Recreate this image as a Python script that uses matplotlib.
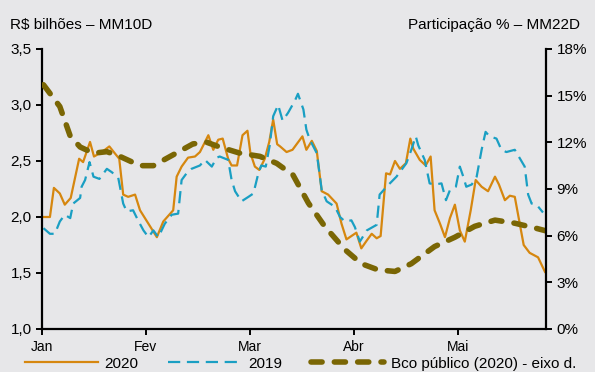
"""
Volume diário (R$ bilhões, MM10D) de 2020 x 2019 e participação dos bancos públicos (eixo direito)
"""

import matplotlib
matplotlib.use('Agg')
import matplotlib.pyplot as plt
from matplotlib.ticker import FuncFormatter

plt.rcParams['font.family'] = ['Liberation Sans', 'DejaVu Sans']

# Eixo x em dias úteis (21 por mês), começando em 2 de janeiro
meses = ['Jan', 'Fev', 'Mar', 'Abr', 'Mai']
dias_por_mes = 21

# 2020 - R$ bilhões (MM10D)
dias_2020 = [0.3, 1.6, 2.4, 3.6, 4.6, 5.8, 7.5, 8.3, 9.7, 10.5, 12.1, 13.6, 14.5, 15.6,
             16.4, 17.4, 18.8, 19.8, 23.2, 24.5, 26.5, 27.2, 28.2, 29.5, 30.9, 31.9,
             33.6, 34.6, 35.6, 36.5, 37.6, 38.3, 39.4, 40.5, 41.5, 42.1, 43.0, 43.9,
             45.0, 45.9, 46.7, 47.5, 48.1, 49.4, 50.6, 52.6, 53.4, 54.5, 55.5, 56.5,
             57.8, 59.5, 60.5, 61.5, 62.5, 63.5, 64.5, 65.6, 66.6, 67.6, 68.4, 69.5,
             70.3, 71.3, 72.3, 73.5, 74.4, 75.0, 76.3, 77.5, 78.5, 79.3, 80.4, 81.4,
             82.4, 83.4, 84.4, 85.4, 86.6, 87.6, 88.8, 90.1, 91.5, 92.3, 93.5, 94.5,
             95.5, 97.3, 98.5, 100.2, 101.6]
vol_2020 = [2.00, 2.00, 2.26, 2.21, 2.11, 2.17, 2.52, 2.49, 2.67, 2.54, 2.58, 2.63, 2.58, 2.52,
            2.20, 2.18, 2.20, 2.06, 1.82, 1.96, 2.06, 2.36, 2.45, 2.53, 2.54, 2.58,
            2.73, 2.60, 2.69, 2.70, 2.52, 2.46, 2.46, 2.73, 2.77, 2.57, 2.45, 2.42,
            2.52, 2.67, 2.87, 2.65, 2.63, 2.58, 2.60, 2.72, 2.60, 2.68, 2.59, 2.23,
            2.20, 2.12, 1.94, 1.80, 1.83, 1.86, 1.72, 1.79, 1.85, 1.81, 1.83, 2.39,
            2.38, 2.50, 2.43, 2.48, 2.70, 2.61, 2.51, 2.46, 2.54, 2.06, 1.94, 1.82,
            1.99, 2.11, 1.88, 1.78, 2.06, 2.33, 2.27, 2.23, 2.36, 2.29, 2.15, 2.19,
            2.18, 1.75, 1.68, 1.64, 1.51]

# 2019 - R$ bilhões (MM10D)
dias_2019 = [0.3, 1.6, 2.6, 3.6, 4.6, 5.7, 6.3, 7.7, 8.0, 8.7, 9.6, 10.4, 11.6, 13.1, 14.1,
             15.4, 16.4, 17.1, 18.4, 19.4, 20.5, 21.5, 22.5, 23.5, 24.8, 26.2, 27.5,
             28.2, 29.2, 30.2, 31.9, 32.9, 34.3, 35.3, 35.9, 37.6, 38.3, 39.0, 40.3,
             41.7, 42.7, 43.7, 44.3, 45.2, 46.0, 46.7, 47.7, 48.6, 49.7, 51.1, 51.7,
             52.8, 53.4, 54.1, 55.5, 56.5, 57.5, 59.2, 60.2, 61.2, 62.5, 63.2, 64.2,
             65.6, 67.6, 68.2, 69.6, 71.6, 73.6, 74.6, 75.5, 76.0, 77.3, 78.3, 79.3,
             80.7, 81.6, 82.4, 83.6, 84.4, 85.1, 85.7, 86.8, 87.8, 88.8, 89.6, 90.4,
             91.8, 92.8, 93.8, 95.5, 97.5, 98.2, 98.9, 99.9, 101.2]
vol_2019 = [1.90, 1.85, 1.85, 1.96, 2.02, 1.99, 2.12, 2.17, 2.27, 2.33, 2.49, 2.36, 2.34, 2.43, 2.40,
            2.35, 2.12, 2.05, 2.06, 1.97, 1.88, 1.82, 1.88, 1.82, 1.94, 2.02, 2.03,
            2.33, 2.39, 2.43, 2.46, 2.51, 2.45, 2.53, 2.54, 2.51, 2.33, 2.23, 2.14,
            2.18, 2.21, 2.39, 2.46, 2.45, 2.64, 2.90, 3.00, 2.86, 2.93, 3.04, 3.10,
            2.96, 2.78, 2.69, 2.57, 2.24, 2.14, 2.09, 2.00, 1.96, 1.97, 1.91, 1.78,
            1.88, 1.93, 2.20, 2.27, 2.36, 2.48, 2.60, 2.72, 2.64, 2.51, 2.30, 2.29,
            2.30, 2.15, 2.24, 2.27, 2.45, 2.36, 2.27, 2.29, 2.36, 2.60, 2.76, 2.72,
            2.70, 2.60, 2.58, 2.60, 2.45, 2.20, 2.12, 2.11, 2.04]

# Participação dos bancos públicos em 2020 (%, MM22D) - eixo direito
dias_pub = [0.3, 3.6, 5.7, 7.7, 10.4, 13.1, 15.7, 19.8, 22.5, 26.5, 30.5, 33.3, 35.9,
            40.0, 44.0, 47.4, 50.7, 53.8, 57.1, 61.2, 64.5, 67.9, 71.3, 74.6, 79.3,
            83.4, 87.4, 91.5, 95.5, 99.5, 101.9]
part_pub = [15.7, 14.3, 12.4, 11.7, 11.3, 11.4, 11.1, 10.5, 10.5, 11.2, 11.9, 12.0, 11.7,
            11.3, 11.1, 10.65, 9.9, 8.1, 6.6, 5.1, 4.2, 3.8, 3.7, 4.2, 5.3,
            5.9, 6.6, 7.0, 6.8, 6.5, 6.3]

COR_2020 = '#D6870F'
COR_2019 = '#1A9FC3'
COR_PUB = '#7A6604'
FUNDO = '#E7E7E9'


def _virgula(v, pos):
    return f'{v:.1f}'.replace('.', ',')


def _pct(v, pos):
    return f'{v:.0f}%'


fig = plt.figure(figsize=(5.95, 3.72), dpi=100, facecolor=FUNDO)
ax = fig.add_axes([0.0706, 0.1156, 0.847, 0.7527])
ax.set_facecolor(FUNDO)
ax2 = ax.twinx()

l1, = ax.plot(dias_2020, vol_2020, color=COR_2020, linewidth=1.6, label='2020')
l2, = ax.plot(dias_2019, vol_2019, color=COR_2019, linewidth=1.6,
              dashes=(5.5, 3), label='2019')
l3, = ax2.plot(dias_pub, part_pub, color=COR_PUB, linewidth=4.0,
               dashes=(2.0, 2.2), dash_capstyle='round', label='Bco público (2020) - eixo d.')

ax.set_xlim(0, 101.8)
ax.set_ylim(1.0, 3.5)
ax.set_yticks([1.0, 1.5, 2.0, 2.5, 3.0, 3.5])
ax.yaxis.set_major_formatter(FuncFormatter(_virgula))
ax.set_xticks([i * dias_por_mes for i in range(len(meses))])
ax.set_xticklabels(meses)

ax2.set_ylim(0, 18)
ax2.set_yticks(range(0, 19, 3))
ax2.yaxis.set_major_formatter(FuncFormatter(_pct))

for a in (ax, ax2):
    a.spines['top'].set_visible(False)
    for s in ('left', 'right', 'bottom'):
        a.spines[s].set_linewidth(1.6)
        a.spines[s].set_color('black')
    a.tick_params(direction='out', length=4, width=1.4, labelsize=11, colors='black')
ax.spines['right'].set_visible(False)
ax2.spines['left'].set_visible(False)
ax2.spines['bottom'].set_visible(False)
ax.tick_params(axis='x', pad=4, labelsize=10)

fig.text(0.017, 0.933, 'R$ bilhões – MM10D', fontsize=11, ha='left', va='center')
fig.text(0.975, 0.933, 'Participação % – MM22D', fontsize=11, ha='right', va='center')

fig.legend(handles=[l1, l2, l3], loc='center', bbox_to_anchor=(0.505, 0.022), ncol=3,
           frameon=False, fontsize=11, handlelength=4.8, handletextpad=0.45,
           columnspacing=1.9, borderpad=0.1)

fig.savefig('out.png', dpi=100, facecolor=FUNDO)
